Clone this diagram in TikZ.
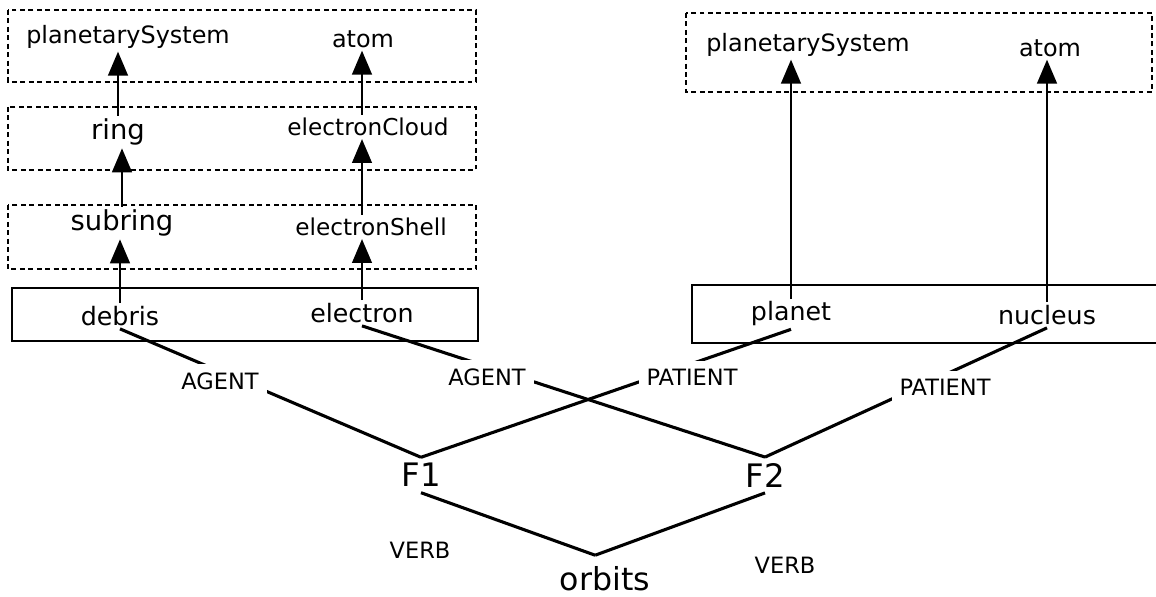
\documentclass[tikz,border=0pt]{standalone}
\usepackage{fontspec}
\setmainfont{DejaVu Sans}
\usetikzlibrary{arrows.meta}

\begin{document}
\begin{tikzpicture}[x=0.025cm, y=-0.025cm,
    concept/.style={inner sep=2pt, font=\fontsize{17pt}{20pt}\selectfont},
    part/.style={inner sep=2pt, font=\fontsize{16.5pt}{20pt}\selectfont},
    piece/.style={inner sep=2pt, font=\fontsize{19.5pt}{23pt}\selectfont},
    entity/.style={inner sep=2pt, font=\fontsize{18pt}{21pt}\selectfont},
    role/.style={fill=white, inner sep=5.7pt, font=\fontsize{16pt}{19pt}\selectfont},
    frame/.style={inner sep=4pt, font=\fontsize{23pt}{27pt}\selectfont},
    layer/.style={draw, line width=1.2pt, dash pattern=on 3.5pt off 2.5pt},
    group/.style={draw, line width=1.6pt},
    isa/.style={line width=1.6pt, -{Triangle[width=14pt,length=17pt]}},
    link/.style={line width=2.2pt}]
  \clip (0,0) rectangle (1156,597);

  % Layer boxes - left hierarchy
  \draw[layer] (8,10) rectangle (476,82);
  \draw[layer] (8,107) rectangle (476,170);
  \draw[layer] (8,205) rectangle (476,269);
  \draw[group] (12,288) rectangle (478,341);

  % Layer boxes - right hierarchy
  \draw[layer] (686,13) rectangle (1152,92);
  \draw[group] (692,285) rectangle (1170,343);

  % Left concepts
  \node[concept] (psysL) at (128,37) {planetarySystem};
  \node[concept] (atomL) at (363,39) {atom};
  \node[piece] (ring) at (118,132) {ring};
  \node[part] (cloud) at (368,127) {electronCloud};
  \node[piece] (subring) at (122,223) {subring};
  \node[part] (shell) at (371,227) {electronShell};
  \node[entity] (debris) at (120,316) {debris};
  \node[entity] (electron) at (362,313) {electron};

  % Right concepts
  \node[concept] (psysR) at (808,45) {planetarySystem};
  \node[concept] (atomR) at (1050,48) {atom};
  \node[entity] (planet) at (791,314) {planet};
  \node[entity] (nucleus) at (1047,315) {nucleus};

  % Frames and verb
  \node[frame] (f1) at (421,475) {F1};
  \node[frame] (f2) at (765,475) {F2};
  \node[inner sep=1pt, font=\fontsize{22.5pt}{26pt}\selectfont] (orbits) at (605,579) {orbits};

  % Part-of arrows
  \draw[isa] (debris.north) -- (debris.north |- subring.south);
  \draw[isa] (subring.north) -- (subring.north |- ring.south);
  \draw[isa] (ring.north) -- (ring.north |- psysL.south);
  \draw[isa] (electron.north) -- (electron.north |- shell.south);
  \draw[isa] (electron.north |- shell.north) -- (electron.north |- cloud.south);
  \draw[isa] (electron.north |- cloud.north) -- (electron.north |- atomL.south);
  \draw[isa] (planet.north) -- (planet.north |- psysR.south);
  \draw[isa] (nucleus.north) -- (nucleus.north |- atomR.south);

  % Role links
  \draw[link] (debris.south) -- (f1.north);
  \draw[link] (planet.south) -- (f1.north);
  \draw[link] (electron.south) -- (f2.north);
  \draw[link] (nucleus.south) -- (f2.north);
  \draw[link] (f1.south) -- ([xshift=-7pt, yshift=7pt]orbits.north);
  \draw[link] (f2.south) -- ([xshift=-7pt, yshift=7pt]orbits.north);

  % Role labels
  \node[role] (ag1) at (220,381) {AGENT};
  \node[role] (ag2) at (487,377) {AGENT};
  \node[role] (pat1) at (692,377) {PATIENT};
  \node[role] (pat2) at (945,387) {PATIENT};
  \node[role] (verb1) at (420,550) {VERB};
  \node[role] (verb2) at (785,565) {VERB};

\end{tikzpicture}
\end{document}
